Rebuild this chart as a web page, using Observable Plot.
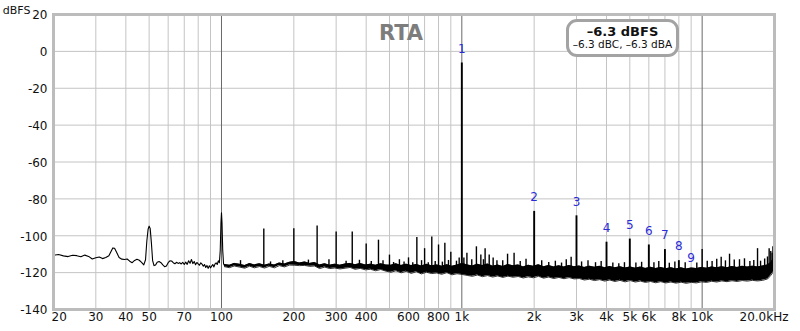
<!DOCTYPE html>
<html><head><meta charset="utf-8">
<script src="https://cdn.jsdelivr.net/npm/d3@7"></script>
<script src="https://cdn.jsdelivr.net/npm/@observablehq/plot@0.6"></script>
<style>
html,body{margin:0;padding:0;background:#fff;}
#wrap{position:relative;width:800px;height:331px;overflow:hidden;font-family:"DejaVu Sans",sans-serif;}
#box{position:absolute;left:566px;top:19px;width:107px;height:32px;border:3px solid #a3a3a3;border-radius:11px;background:#fff;text-align:center;color:#111;}
#box .l1{position:absolute;left:0;right:0;top:3px;font-size:13px;font-weight:bold;line-height:14px;}
#box .l2{position:absolute;left:-4px;right:-4px;top:16px;font-size:10.5px;line-height:12px;}
</style></head>
<body><div id="wrap"><div id="chart"></div><div id="box"><div class="l1">–6.3 dBFS</div><div class="l2">–6.3 dBC, –6.3 dBA</div></div></div>
<script>
// ---- data ----
const yTicks = [20, 0, -20, -40, -60, -80, -100, -120, -140];
const xGridMinor = [20,30,40,50,60,70,80,90,200,300,400,500,600,700,800,900,2000,3000,4000,5000,6000,7000,8000,9000];
const xGridDecade = [100, 1000, 10000];
const xTickValues = [20,30,40,50,70,100,200,300,400,600,800,1000,2000,3000,4000,5000,6000,8000,10000,20000];
const xTickLabels = ["20","30","40","50","70","100","200","300","400","600","800","1k","2k","3k","4k","5k","6k","8k","10k","20.0kHz"];

// low-frequency trace [Hz, dBFS]
const lowTrace = [[20,-110.6],[21,-110.2],[22,-110.9],[23,-111.3],[24,-110.6],[25,-110.8],[26,-111.4],[27,-110.5],[28,-111.2],[29,-112.6],[30,-111.9],[31,-111.5],[32,-112.4],[33,-111.8],[34,-110.8],[34.7,-108.5],[35.3,-106.6],[35.9,-106.8],[36.6,-109.0],[37.5,-111.8],[38.5,-112.7],[39.5,-112.9],[40.5,-112.6],[41.5,-113.8],[42.5,-114.6],[43.5,-113.4],[44.5,-112.8],[45.5,-113.3],[46.5,-114.4],[47.5,-115.8],[48.3,-113],[48.9,-103],[49.5,-96.5],[50,-94.8],[50.5,-96.0],[51.1,-104],[51.7,-113.5],[52.4,-116.2],[53.2,-115.8],[54,-114.4],[55,-114.0],[56,-114.6],[57,-115.8],[58,-116.8],[59,-116.4],[60,-114.6],[61,-113.6],[62,-113.7],[63,-114.6],[64,-115.2],[65,-114.4],[66,-115.0],[67,-114.6],[68,-115.3],[69,-114.4],[70,-115.6],[71,-114.3],[72,-115.5],[73,-113.6],[74,-114.9],[75,-112.9],[76,-115.1],[77,-114.0],[78,-115.7],[79,-114.5],[80,-115.3],[81,-116.0],[82,-114.7],[83,-115.4],[84,-116.5],[85,-115.6],[86,-117.2],[87,-116.1],[88,-117.7],[89,-116.3],[90,-117.4],[91,-116.5],[92,-115.6],[93,-116.9],[94,-115.3],[95,-114.7],[96,-115.6],[97,-113.6],[98,-114.6],[98.8,-108],[99.5,-93],[100,-87.5],[100.5,-93],[101.2,-108],[102,-115.2],[103,-116.3]];

// noise floor band [Hz, upper dBFS, lower dBFS]
const noiseBand = [[103,-115.6,-116.8],[108,-116.0,-117.3],[113,-115.0,-116.4],[119,-115.5,-117.0],[125,-116.2,-117.6],[131,-115.1,-116.5],[137,-115.8,-117.4],[144,-115.2,-116.7],[151,-116.0,-117.5],[158,-115.3,-116.6],[166,-115.9,-117.4],[174,-114.8,-116.2],[183,-115.3,-116.9],[192,-114.4,-115.9],[201,-114.0,-116.0],[211,-114.8,-116.2],[222,-114.2,-116.1],[233,-115.0,-116.6],[244,-114.5,-116.4],[256,-115.8,-117.8],[269,-115.2,-117.0],[282,-116.0,-117.8],[296,-115.4,-117.5],[311,-116.0,-118.0],[327,-115.3,-117.6],[343,-115.0,-117.2],[360,-115.7,-118.2],[378,-115.1,-117.7],[397,-115.8,-118.5],[417,-115.4,-118.2],[438,-116.0,-119.0],[460,-115.2,-118.3],[483,-115.9,-119.2],[507,-116.0,-119.8],[532,-115.2,-119.0],[559,-116.1,-120.1],[587,-115.4,-119.3],[616,-116.2,-120.4],[647,-115.6,-119.5],[679,-116.4,-120.7],[713,-115.5,-119.8],[749,-116.3,-120.5],[786,-115.8,-120.2],[825,-116.5,-120.9],[867,-115.7,-120.0],[910,-116.6,-121.2],[955,-115.9,-120.6],[1003,-115.0,-121.0],[1053,-115.8,-121.5],[1106,-116.4,-122.0],[1161,-115.5,-121.3],[1219,-116.2,-122.2],[1280,-115.3,-121.6],[1344,-116.5,-122.4],[1411,-115.9,-121.8],[1482,-116.7,-122.6],[1556,-115.6,-121.9],[1634,-116.3,-122.5],[1716,-115.8,-122.1],[1801,-116.9,-122.9],[1891,-116.0,-122.3],[1986,-116.6,-122.8],[2085,-115.7,-122.0],[2190,-116.8,-123.0],[2299,-116.2,-122.4],[2414,-116.9,-123.2],[2535,-116.3,-122.6],[2661,-117.0,-123.3],[2795,-116.1,-122.7],[2934,-116.8,-123.4],[3081,-116.4,-123.2],[3235,-117.2,-124.0],[3397,-116.5,-123.6],[3567,-117.1,-124.3],[3745,-116.6,-123.8],[3932,-117.3,-124.6],[4129,-116.7,-124.0],[4335,-117.4,-124.8],[4552,-116.8,-124.2],[4780,-117.5,-125.0],[5019,-116.9,-124.3],[5270,-117.6,-125.1],[5533,-117.0,-124.6],[5810,-117.7,-125.3],[6100,-117.1,-124.8],[6405,-117.8,-125.5],[6726,-117.2,-124.9],[7062,-117.9,-125.6],[7415,-117.3,-125.1],[7786,-118.0,-125.7],[8175,-117.4,-125.2],[8584,-118.1,-125.8],[9013,-117.5,-125.3],[9464,-117.8,-125.6],[9937,-117.2,-125.0],[10434,-117.6,-125.3],[10955,-116.9,-124.7],[11503,-117.4,-125.1],[12078,-116.8,-124.5],[12682,-117.3,-124.9],[13316,-116.7,-124.4],[13982,-117.2,-124.8],[14681,-116.6,-124.3],[15415,-117.0,-124.6],[16186,-116.5,-124.2],[16995,-116.9,-124.5],[17845,-116.4,-124.2],[18737,-115.8,-123.4],[19300,-114.5,-121.5],[19674,-113.0,-120.0],[20000,-111.5,-119.0]];

// hum / spur spikes [Hz, peak dBFS]
const spikes = [[150,-96.3],[200,-96.2],[250,-94.7],[300,-98],[350,-98],[400,-104.5],[450,-102.4],[500,-110.5],[550,-113],[600,-112],[650,-101],[700,-107],[750,-100.7],[800,-105],[850,-104],[900,-109],[1050,-109.5],[1100,-113],[1150,-106],[1200,-110.5],[1250,-107],[1300,-110.5],[1350,-112],[1400,-113.6],[1550,-110],[1650,-109.5],[1750,-114],[10000,-107.5],[11000,-114],[12000,-111.6],[13000,-110],[14300,-113],[15000,-112.5],[17000,-107],[19000,-107],[19300,-108.5],[19700,-106]];
const minorSpikes = [[120,-113.5],[160,-114.2],[180,-113.6],[230,-113.2],[280,-113],[330,-113.8],[375,-113.3],[420,-114],[470,-113.6],[520,-114.5],[575,-114.2],[625,-114.6],[680,-113.5],[725,-114.7],[775,-113.9],[830,-114.3],[880,-113.4],[950,-113.8],[975,-112],[1020,-112],[1230,-113],[1480,-113.5],[1850,-112.8],[2150,-113.5],[2300,-114.5],[2450,-113.8],[2600,-114.8],[2720,-113],[2850,-111.7],[3150,-114.2],[3350,-113.6],[3600,-114.6],[3800,-114],[4250,-114.8],[4500,-115.2],[4750,-114.6],[5300,-114.8],[5600,-114.4],[6300,-114.7],[6600,-114],[7300,-114.9],[7700,-114.3],[8500,-114.6],[9500,-114.8],[10500,-113.8],[11500,-112.8],[12500,-113.6],[13600,-113.2],[15800,-114],[16400,-113.4],[17500,-113.8],[18200,-112.6],[18700,-111.5],[19550,-109.5],[19850,-108]];

// harmonics
const harmonicFreq = [1000,2000,3000,4000,5000,6000,7000,8000,9000];
const harmonicDb = [-6.3,-86.8,-89.2,-103.5,-101.8,-105,-107.5,-113.5,-119.5];
const harmonicLabel = ["1","2","3","4","5","6","7","8","9"];

// ---- build ----
const bandMid = f => {
  let best = noiseBand[0];
  for (const b of noiseBand) if (Math.abs(Math.log(b[0]/f)) < Math.abs(Math.log(best[0]/f))) best = b;
  return (best[1] + best[2]) / 2;
};
const spikeRows = spikes.concat(minorSpikes).map(([f, db]) => ({f, db, base: bandMid(f)}));
const harmonics = harmonicFreq.map((f, i) => ({f, db: harmonicDb[i], label: harmonicLabel[i], base: bandMid(f)}));
const xTicks = xTickValues.map((v, i) => ({v, t: xTickLabels[i]}));
const font = "DejaVu Sans, sans-serif";

const chart = Plot.plot({
  width: 800, height: 331,
  marginLeft: 53, marginRight: 26, marginTop: 14, marginBottom: 22,
  x: {type: "log", domain: [20, 20000], axis: null},
  y: {domain: [-140, 20], axis: null},
  style: {fontFamily: font, background: "transparent", overflow: "visible"},
  marks: [
    Plot.ruleX(xGridMinor, {stroke: "#c4c4c4", strokeWidth: 1}),
    Plot.ruleY(yTicks, {stroke: "#c4c4c4", strokeWidth: 1}),
    Plot.ruleX(xGridDecade, {stroke: "#6a6a6a", strokeWidth: 1}),
    Plot.areaY(noiseBand, {x: d => d[0], y1: d => d[2], y2: d => d[1], fill: "#000"}),
    Plot.line(noiseBand, {x: d => d[0], y: d => d[1], stroke: "#000", strokeWidth: 0.8}),
    Plot.line(noiseBand, {x: d => d[0], y: d => d[2], stroke: "#000", strokeWidth: 0.8}),
    Plot.line(lowTrace, {x: d => d[0], y: d => d[1], stroke: "#000", strokeWidth: 1.1}),
    Plot.ruleX(spikeRows, {x: "f", y1: "base", y2: "db", stroke: "#000", strokeWidth: 1.4}),
    Plot.ruleX(harmonics, {x: "f", y1: "base", y2: "db", stroke: "#000", strokeWidth: 1.9}),
    Plot.text(harmonics, {x: "f", y: "db", text: "label", dy: -14, fill: "#2b2bd6", fontSize: 12, fontFamily: font}),
    Plot.frame({stroke: "#bcbcbc", strokeWidth: 3}),
    Plot.text(yTicks, {y: d => d, text: d => String(d), frameAnchor: "left", dx: -6, dy: 1, textAnchor: "end", fontSize: 12, fill: "#111", fontFamily: font}),
    Plot.text(xTicks.slice(0, 1), {x: "v", text: "t", frameAnchor: "bottom", dy: 11, dx: -2, textAnchor: "start", fontSize: 12, fill: "#111", fontFamily: font}),
    Plot.text(xTicks.slice(1, -1), {x: "v", text: "t", frameAnchor: "bottom", dy: 11, textAnchor: "middle", fontSize: 12, fill: "#111", fontFamily: font}),
    Plot.text(xTicks.slice(-1), {x: "v", text: "t", frameAnchor: "bottom", dy: 11, dx: 14, textAnchor: "end", fontSize: 12, fill: "#111", fontFamily: font}),
    Plot.text(["dBFS"], {frameAnchor: "top-left", dx: -23, dy: -8, textAnchor: "end", fontSize: 11, fill: "#111", fontFamily: font}),
    Plot.text(["RTA"], {frameAnchor: "top", dx: -13, dy: 11, fontSize: 21, fontWeight: "bold", fill: "#7d7d7d", fontFamily: font})
  ]
});
document.getElementById("chart").appendChild(chart);
</script>
</body></html>
